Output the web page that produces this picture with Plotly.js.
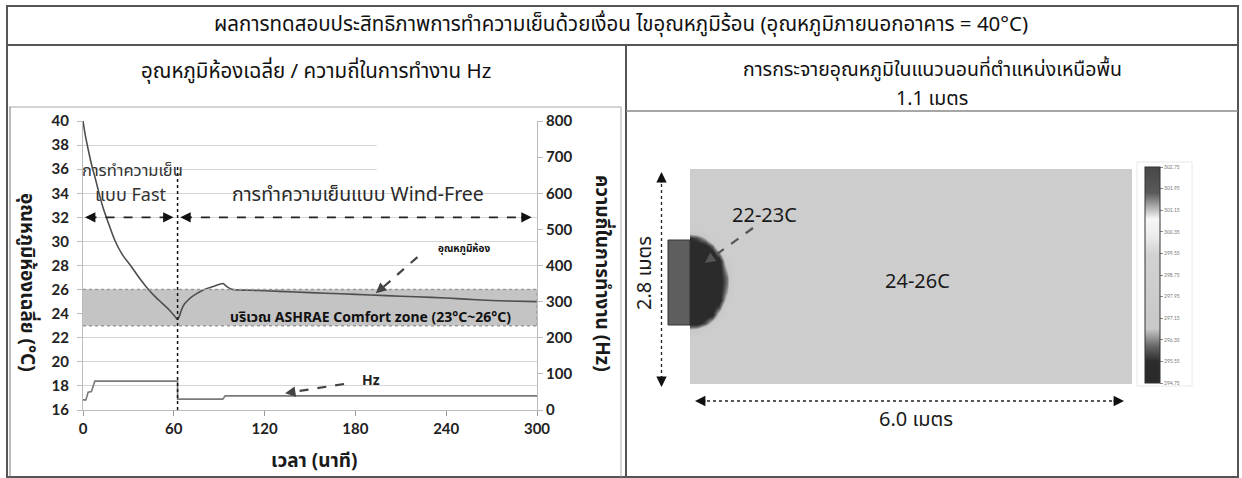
<!DOCTYPE html>
<html><head><meta charset="utf-8">
<script src="https://cdn.plot.ly/plotly-3.0.1.min.js"></script>
<style>html,body{margin:0;padding:0;background:#fff;}#chart{width:1242px;height:478px;}</style>
</head><body><div id="chart"></div>
<script>
// ---------- data ----------
const timeTicks = [0, 60, 120, 180, 240, 300];
const tempTicks = [16, 18, 20, 22, 24, 26, 28, 30, 32, 34, 36, 38, 40];
const hzTicks = [0, 100, 200, 300, 400, 500, 600, 700, 800];

const tempTime = [0, 0.5, 1, 2, 3, 4, 6, 8, 10, 13, 16, 21, 26, 32, 37, 42, 47, 52, 57, 62.5,
  64, 65, 67, 70, 73, 77, 82, 87, 92.5, 95, 99, 110, 120, 140, 160, 180, 200, 220, 240, 260, 280, 300];
const tempValue = [40, 39.6, 39.2, 38.5, 37.9, 37.3, 36.2, 35.3, 34.3, 32.9, 31.8, 30.1, 28.9, 27.9, 27.0, 26.2, 25.5, 24.9, 24.3, 23.5,
  23.9, 24.3, 24.8, 25.2, 25.5, 25.8, 26.1, 26.3, 26.5, 26.25, 26.0, 25.95, 25.9, 25.8, 25.7, 25.6, 25.5, 25.4, 25.3, 25.15, 25.05, 25.0];

const hzTime = [0, 1.9, 3.4, 5.6, 7.8, 62.5, 62.5, 92.4, 93.9, 300];
const hzValue = [28, 28, 49, 51, 80, 80, 30, 30, 39, 39];

const comfortZone = [23, 26];
const modeSwitchTime = 62.5;

// horizontal temperature field at 1.1 m (metres, deg C)
const roomX = [0, 0.1, 0.2, 0.3, 0.4, 0.5, 0.6, 6.0];
const roomY = [0, 0.6, 0.7, 0.8, 0.9, 1.0, 1.1, 1.2, 1.3, 1.4, 1.5, 1.6, 1.7, 1.8, 1.9, 2.0, 2.1, 2.8];
const roomTemp = [
  [25, 25, 25, 25, 25, 25, 25, 25],
  [25, 25, 25, 25, 25, 25, 25, 25],
  [23.7, 23.9, 24.7, 25, 25, 25, 25, 25],
  [22, 22, 22.7, 23.9, 25, 25, 25, 25],
  [22, 22, 22, 22.2, 24.0, 25, 25, 25],
  [22, 22, 22, 22, 22.7, 24.9, 25, 25],
  [22, 22, 22, 22, 22, 24.0, 25, 25],
  [22, 22, 22, 22, 22, 23.4, 25, 25],
  [22, 22, 22, 22, 22, 23.1, 25, 25],
  [22, 22, 22, 22, 22, 23.1, 25, 25],
  [22, 22, 22, 22, 22, 23.6, 25, 25],
  [22, 22, 22, 22, 22, 24.3, 25, 25],
  [22, 22, 22, 22, 23.2, 25, 25, 25],
  [22, 22, 22, 22.9, 24.6, 25, 25, 25],
  [22.4, 22.7, 23.5, 24.7, 25, 25, 25, 25],
  [24.6, 24.8, 25, 25, 25, 25, 25, 25],
  [25, 25, 25, 25, 25, 25, 25, 25],
  [25, 25, 25, 25, 25, 25, 25, 25]
];
const cbTickVals = [21.6, 22.4, 23.2, 24.0, 24.8, 25.6, 26.4, 27.2, 28.0, 28.8, 29.6];
const cbTickText = ['294.75', '295.55', '296.35', '297.15', '297.95', '298.75', '299.55', '300.35', '301.15', '301.95', '302.75'];

// ---------- helpers (layout only) ----------
const W = 1242, H = 478;
const px = v => v / W, py = v => 1 - v / H;
const FONT = '"Noto Sans", "Noto Sans Thai", Tahoma, sans-serif';
const NUMFONT = 'Lato, "Liberation Sans", sans-serif';

const splitIdx = tempTime.indexOf(modeSwitchTime);
const fastTime = tempTime.slice(0, splitIdx + 1), fastVal = tempValue.slice(0, splitIdx + 1);
const windTime = tempTime.slice(splitIdx), windVal = tempValue.slice(splitIdx);

const traces = [
  {x: fastTime, y: fastVal, type: 'scatter', mode: 'lines', xaxis: 'x', yaxis: 'y',
   line: {color: '#4e4e4e', width: 1.6, shape: 'spline', smoothing: 0.8}, hoverinfo: 'skip'},
  {x: windTime, y: windVal, type: 'scatter', mode: 'lines', xaxis: 'x', yaxis: 'y',
   line: {color: '#4e4e4e', width: 1.6, shape: 'spline', smoothing: 0.6}, hoverinfo: 'skip'},
  {x: hzTime, y: hzValue, type: 'scatter', mode: 'lines', xaxis: 'x', yaxis: 'y2',
   line: {color: '#7a7a7a', width: 1.6}, hoverinfo: 'skip'},
  {x: roomX, y: roomY, z: roomTemp, type: 'heatmap', xaxis: 'x2', yaxis: 'y3', zsmooth: 'best',
   zmin: 21.6, zmax: 29.6,
   colorscale: [[0, '#2a2a2a'], [0.10, '#2c2c2c'], [0.17, '#666666'], [0.25, '#c8c8c8'], [0.6, '#d2d2d2'],
                [0.68, '#ececec'], [0.76, '#f6f6f6'], [0.83, '#9a9a9a'], [0.88, '#5a5a5a'], [1, '#474747']],
   colorbar: {x: px(1145), xanchor: 'left', y: py(275), yanchor: 'middle', len: 216 / H, thickness: 15,
     outlinewidth: 1, outlinecolor: '#333', tickvals: cbTickVals, ticktext: cbTickText, ticks: 'outside',
     ticklen: 3, tickcolor: '#888', tickfont: {size: 5, color: '#777', family: NUMFONT}, xpad: 0, ypad: 0},
   hoverinfo: 'skip'}
];

const tickFont = {family: NUMFONT, size: 15, color: '#222', weight: 'bold'};

const shapes = [];
const annotations = [];
function pline(x0, y0, x1, y1, color, width, dash) {
  shapes.push({type: 'line', xref: 'paper', yref: 'paper', x0: px(x0), y0: py(y0), x1: px(x1), y1: py(y1),
    line: {color: color, width: width, dash: dash || 'solid'}});
}
function ptext(x, y, text, size, opts) {
  const o = Object.assign({weight: 'normal', color: '#1a1a1a'}, opts || {});
  annotations.push({xref: 'paper', yref: 'paper', x: px(x), y: py(y), text: text, showarrow: false,
    xanchor: 'center', yanchor: 'middle', textangle: o.angle || 0,
    font: {family: FONT, size: size, color: o.color, weight: o.weight}});
}
function phead(x, y, ax, ay, color) {
  annotations.push({xref: 'paper', yref: 'paper', x: px(x), y: py(y), ax: ax, ay: ay, text: '', showarrow: true,
    arrowhead: 2, arrowsize: 1.3, arrowwidth: 1.6, arrowcolor: color || '#111'});
}
function dhead(x, y, ax, ay, color) {
  annotations.push({xref: 'x', yref: 'y', x: x, y: y, ax: ax, ay: ay, text: '', showarrow: true,
    arrowhead: 2, arrowsize: 1.3, arrowwidth: 1.6, arrowcolor: color || '#111'});
}
function dline(x0, y0, x1, y1, color, width, dash) {
  shapes.push({type: 'line', xref: 'x', yref: 'y', x0: x0, y0: y0, x1: x1, y1: y1,
    line: {color: color, width: width, dash: dash || 'solid'}});
}

// table frame
shapes.push({type: 'rect', xref: 'paper', yref: 'paper', x0: px(7), x1: px(1238), y0: py(477), y1: py(6),
  line: {color: '#555', width: 2}});
pline(7, 45, 1238, 45, '#555', 2);
pline(626, 45, 626, 477, '#555', 2);
pline(9, 107, 621, 107, '#aaa', 1);
pline(621, 107, 621, 477, '#aaa', 1);
pline(10, 107, 10, 477, '#777', 1);
pline(626, 111, 1238, 111, '#888', 1.5);

// left chart decorations
shapes.push({type: 'rect', xref: 'x', yref: 'y', x0: 0, x1: 300, y0: comfortZone[0], y1: comfortZone[1],
  fillcolor: '#c4c4c4', line: {width: 0}, layer: 'between'});
shapes.push({type: 'rect', xref: 'x', yref: 'y', x0: 194, x1: 300, y0: 35.2, y1: 38.8,
  fillcolor: '#ffffff', line: {width: 0}, layer: 'between'});
dline(0, comfortZone[1], 300, comfortZone[1], '#9a9a9a', 1.5, 'dot');
dline(0, comfortZone[0], 300, comfortZone[0], '#9a9a9a', 1.5, 'dot');
dline(300, comfortZone[0], 300, comfortZone[1], '#9a9a9a', 1.5, 'dot');
dline(modeSwitchTime, 16, modeSwitchTime, 36.2, '#111', 1.5, 'dot');
dline(3, 32, 58, 32, '#222', 1.6, 'dash');
dline(66, 32, 294, 32, '#222', 1.6, 'dash');
dhead(1.3, 32, 12, 0); dhead(59.8, 32, -12, 0);
dhead(64.3, 32, 12, 0); dhead(296.5, 32, -12, 0);
dline(221, 28.7, 197, 26.05, '#444', 2.2, 'dash');
dhead(193.5, 25.7, 8, -7, '#444');
dline(172.5, 18.16, 139, 17.5, '#444', 2.2, 'dash');
dhead(133.5, 17.4, 10, -1.5, '#444');

ptext(132, 169, 'การทำความเย็น', 16.5, {color: '#333'});
ptext(131, 194, 'แบบ Fast', 18, {color: '#333'});
ptext(358, 193, 'การทำความเย็นแบบ Wind-Free', 19.5, {color: '#2a2a2a'});
ptext(464, 248, 'อุณหภูมิห้อง', 10, {color: '#111', weight: 'bold'});
ptext(370, 316, 'บริเวณ ASHRAE Comfort zone (23°C~26°C)', 14, {color: '#111', weight: 'bold'});
ptext(371, 379, 'Hz', 14, {color: '#222', weight: 'bold'});
ptext(28, 282, 'อุณหภูมิห้องเฉลี่ย (°C)', 19, {angle: 90, weight: 'bold'});
ptext(603, 273, 'ความถี่ในการทำงาน (Hz)', 19, {angle: 90, weight: 'bold'});
ptext(314, 460, 'เวลา (นาที)', 19, {weight: 'bold'});

// headers
ptext(621, 23, 'ผลการทดสอบประสิทธิภาพการทำความเย็นด้วยเงื่อน ไขอุณหภูมิร้อน (อุณหภูมิภายนอกอาคาร = 40°C)', 20.5, {color: '#111'});
ptext(316, 70, 'อุณหภูมิห้องเฉลี่ย / ความถี่ในการทำงาน Hz', 20.5, {color: '#111'});
ptext(932, 68, 'การกระจายอุณหภูมิในแนวนอนที่ตำแหน่งเหนือพื้น', 19.5, {color: '#111'});
ptext(932, 97, '1.1 เมตร', 19.5, {color: '#111'});

// right panel decorations
shapes.push({type: 'rect', xref: 'paper', yref: 'paper', x0: px(1137), x1: px(1192), y0: py(386), y1: py(162),
  fillcolor: '#ffffff', line: {color: '#e8e8e8', width: 1}, layer: 'below'});
shapes.push({type: 'rect', xref: 'paper', yref: 'paper', x0: px(668), x1: px(690), y0: py(325), y1: py(240),
  fillcolor: '#5e5e5e', line: {color: '#333', width: 1}});
pline(661.5, 178, 661.5, 381, '#222', 1.3, 'dot');
phead(661.5, 172, 0, 12); phead(661.5, 387, 0, -12);
pline(701, 401, 1118, 401, '#222', 1.3, 'dot');
phead(695, 401, 12, 0); phead(1124, 401, -12, 0);
pline(753, 228, 710, 259, '#555', 2.2, 'dash');
phead(705, 263, 8, -6, '#555');
ptext(643, 273, '2.8 เมตร', 20, {angle: -90});
ptext(916, 418, '6.0 เมตร', 20);
ptext(764, 214, '22-23C', 20);
ptext(918, 280, '24-26C', 20);

const layout = {
  width: W, height: H, margin: {l: 0, r: 0, t: 0, b: 0, pad: 0},
  paper_bgcolor: '#ffffff', plot_bgcolor: 'rgba(0,0,0,0)', showlegend: false,
  font: {family: FONT, color: '#222'},
  xaxis: {domain: [px(83), px(537)], range: [0, 300], tickvals: timeTicks, ticks: 'outside', ticklen: 5,
    tickcolor: '#999', showline: true, linecolor: '#bbb', linewidth: 1, showgrid: false, zeroline: false,
    tickfont: tickFont, anchor: 'y', fixedrange: true},
  yaxis: {domain: [py(410), py(121)], range: [16, 40], tickvals: tempTicks, ticks: 'outside', ticklen: 5,
    tickcolor: '#bbb', showline: true, linecolor: '#bbb', linewidth: 1, showgrid: true, gridcolor: '#d6d6d6',
    gridwidth: 1, zeroline: false, tickfont: tickFont, anchor: 'x', ticklabelstandoff: 5},
  yaxis2: {overlaying: 'y', side: 'right', anchor: 'x', range: [0, 800], tickvals: hzTicks, ticks: 'outside',
    ticklen: 5, tickcolor: '#bbb', showline: true, linecolor: '#bbb', linewidth: 1, showgrid: false,
    zeroline: false, tickfont: tickFont},
  xaxis2: {domain: [px(690), px(1132)], range: [0, 6], visible: false, anchor: 'y3'},
  yaxis3: {domain: [py(384), py(169)], range: [0, 2.8], visible: false, anchor: 'x2'},
  shapes: shapes, annotations: annotations
};

Plotly.newPlot('chart', traces, layout, {staticPlot: true, displayModeBar: false});
</script></body></html>
